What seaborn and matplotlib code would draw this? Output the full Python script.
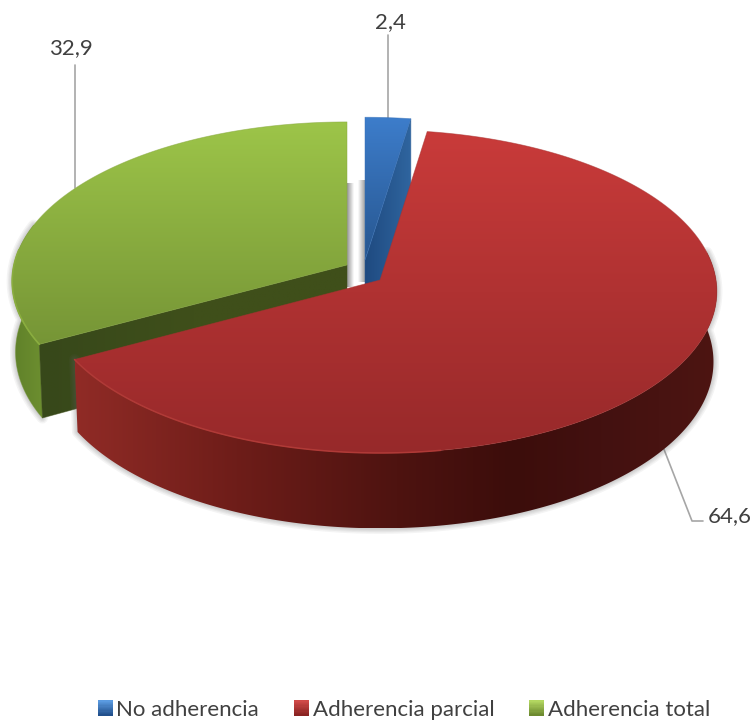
import numpy as np
import matplotlib
matplotlib.use("Agg")
import matplotlib.pyplot as plt
from matplotlib.colors import LinearSegmentedColormap, to_rgb
from matplotlib.legend_handler import HandlerBase
from matplotlib.patches import Patch, Polygon, Rectangle
import seaborn as sns

# Survey shares
categories = ["No adherencia", "Adherencia parcial", "Adherencia total"]
values = [2.4, 64.6, 32.9]

sns.set_theme(style="white")
plt.rcParams["font.family"] = ["Lato", "DejaVu Sans"]

TEXT = "#404040"
LEADER = "#a6a6a6"
LABEL_SIZE = 16

# Perspective disc of each exploded slice: apex, radii, foreshortening, wall height
DISCS = [
    dict(cx=365, cy=260, rx=335, a=157, k=0.10, h=70),
    dict(cx=380, cy=280, rx=336, a=160.7, k=0.071, h=70),
    dict(cx=347, cy=265, rx=333, a=157.8, k=0.103, h=70),
]
TOP_SHADES = [("#3d7dcb", "#27568f"), ("#c93b3a", "#97292a"), ("#9dc549", "#769536")]
SQUARES = [("#5a9ae0", "#22508c"), ("#d04a48", "#8a2322"), ("#b2d660", "#6d8a30")]

shares = np.array(values) / np.sum(values) * 360
edges = np.concatenate([[0], np.cumsum(shares)])


def project(theta, d):
    """Top-rim point for a clockwise angle measured from twelve o'clock."""
    t = np.radians(theta)
    u, v = np.sin(t), -np.cos(t)
    w = 1 - d["k"] * v
    return d["cx"] + d["rx"] * u / w, d["cy"] + d["a"] * v / w


def drop(x, y, theta, d):
    """Matching point at the foot of the wall."""
    v = -np.cos(np.radians(theta))
    return d["cx"] + (x - d["cx"]) * 0.99, y + d["h"] / (1 - d["k"] * v)


def arc(t0, t1, d, n=240):
    th = np.linspace(t0, t1, n)
    return th, *project(th, d)


def gradient(ax, poly, colors, horizontal=False, z=2, positions=None):
    pts = np.asarray(poly)
    x0, x1 = pts[:, 0].min(), pts[:, 0].max()
    y0, y1 = pts[:, 1].min(), pts[:, 1].max()
    stops = list(zip(positions, colors)) if positions is not None else colors
    cmap = LinearSegmentedColormap.from_list("shade", stops)
    ramp = np.linspace(0, 1, 256)
    ramp = ramp[None, :] if horizontal else ramp[:, None]
    im = ax.imshow(ramp, cmap=cmap, vmin=0, vmax=1, extent=(x0, x1, y1, y0),
                   aspect="auto", interpolation="bilinear", zorder=z)
    im.set_clip_path(Polygon(pts, closed=True, transform=ax.transData))


def outline(ax, poly, color, z):
    # A hairline around a clipped fill keeps its edge from looking jagged
    ax.add_patch(Polygon(poly, closed=True, fc="none", ec=color, lw=0.6, alpha=0.55, zorder=z))


def soft_shadow(ax, poly, z=1):
    for lw in (1.5, 3, 4.5, 6, 8):
        ax.add_patch(Polygon(poly, closed=True, fc="none", ec="#666666", lw=lw,
                             alpha=0.07, joinstyle="round", zorder=z))


fig = plt.figure(figsize=(7.54, 7.24), dpi=100)
ax = fig.add_axes([0, 0, 1, 1])

blue, red, green = DISCS
t_blue = (edges[0], edges[1])
t_red = (edges[1], edges[2])
t_green = (edges[2], edges[3])

# Green slice: outer wall, cut face, top
th, x, y = arc(t_green[0], 285, green)
bx, by = drop(x, y, th, green)
wall = np.r_[np.c_[x, y], np.c_[bx, by][::-1]]
soft_shadow(ax, wall)
gradient(ax, wall, ["#5f8029", "#6d8f30"], horizontal=True, z=3)
outline(ax, wall, "#6d8f30", 3)
corner = np.array(project(t_green[0], green))
foot = np.array(drop(*corner, t_green[0], green))
apex = np.array([green["cx"], green["cy"]])
cut = [apex, corner, foot, apex + [0, green["h"]]]
gradient(ax, cut, ["#37481a", "#3f4f1a", "#3f4f1a"], horizontal=True, z=3)
outline(ax, cut, "#3f4f1a", 3)
th, x, y = arc(*t_green, green)
top = np.r_[[apex], np.c_[x, y]]
gradient(ax, top, list(TOP_SHADES[2]), z=4)
outline(ax, top, "#87a83f", 4)
ax.plot(x[:70], y[:70], color="#8aad3f", lw=1.2, zorder=5, solid_capstyle="round")

# Shadows in the gap between the green and blue slices
gap_green = [(green["cx"], green["cy"] - 82), (green["cx"] + 7, green["cy"] - 82),
             (green["cx"] + 7, green["cy"] + 22), (green["cx"], green["cy"] + 22)]
gradient(ax, gap_green, ["#949494", "#ffffff"], horizontal=True, z=1)
gap_blue = [(blue["cx"] - 7, blue["cy"] - 80), (blue["cx"], blue["cy"] - 80),
            (blue["cx"], blue["cy"] + 22), (blue["cx"] - 7, blue["cy"] + 22)]
gradient(ax, gap_blue, ["#ffffff", "#a0a0a0"], horizontal=True, z=1)

# Blue slice: cut face, then top
th, x, y = arc(*t_blue, blue)
apex_b = np.array([blue["cx"], blue["cy"]])
rim_end = np.array([x[-1], y[-1]])
cut = [rim_end, apex_b, apex_b + [0, blue["h"]], rim_end + [0, blue["h"]]]
gradient(ax, cut, ["#1f4a80", "#2f659f"], horizontal=True, z=3)
outline(ax, cut, "#2a5a94", 3)
top = np.r_[[apex_b], np.c_[x, y]]
gradient(ax, top, list(TOP_SHADES[0]), z=4)
outline(ax, top, "#3570b8", 4)

# Red slice: wall, then top
th, x, y = arc(80, t_red[1], red)
bx, by = drop(x, y, th, red)
wall = np.r_[np.c_[x, y], np.c_[bx, by][::-1]]
soft_shadow(ax, wall, z=5)
gradient(ax, wall,
         ["#902b26", "#6e1d19", "#4e1310", "#3c0d0b", "#431110", "#4d1512"],
         horizontal=True, z=6, positions=[0, 0.25, 0.5, 0.68, 0.82, 1])
th, x, y = arc(*t_red, red)
top = np.r_[[(red["cx"], red["cy"])], np.c_[x, y]]
gradient(ax, top, list(TOP_SHADES[1]), z=7)
outline(ax, top, "#a83230", 7)
mask = th > 170
ax.plot(x[mask], y[mask], color="#b03a37", lw=1.1, zorder=8, solid_capstyle="round")

# Data labels with leader lines from each slice's mid-angle
mids = (edges[:-1] + edges[1:]) / 2
labels = [f"{v:.1f}".replace(".", ",") for v in values]

mx, my = project(mids[0], blue)
ax.plot([mx, mx], [my, 35], color=LEADER, lw=1.2, zorder=1)
ax.text(mx + 2, 22, labels[0], ha="center", va="center", fontsize=LABEL_SIZE, color=TEXT)

mx, my = project(mids[2], green)
ax.plot([mx, mx], [my, 65], color=LEADER, lw=1.2, zorder=1)
ax.text(mx - 4, 48, labels[2], ha="center", va="center", fontsize=LABEL_SIZE, color=TEXT)

mx, my = project(mids[1], red)
mx, my = drop(mx, my, mids[1], red)
ax.plot([mx, 692, 703], [my, 521, 521], color=LEADER, lw=1.2, zorder=1)
ax.text(708, 516, labels[1], ha="left", va="center", fontsize=LABEL_SIZE, color=TEXT)


class ShadedSquare(HandlerBase):
    def __init__(self, shade):
        super().__init__()
        self.shade = shade

    def create_artists(self, legend, orig, xd, yd, w, h, fontsize, trans):
        c0, c1 = (np.array(to_rgb(c)) for c in self.shade)
        n = 12
        strips = []
        for i in range(n):
            f = i / (n - 1)
            strips.append(Rectangle((-xd, -yd + h * (1 - (i + 1) / n)), w, h / n + 0.2,
                                    fc=tuple(c0 + (c1 - c0) * f), ec="none", transform=trans))
        return strips


handles = [Patch(label=c) for c in categories]
ax.legend(
    handles=handles,
    handler_map={hnd: ShadedSquare(s) for hnd, s in zip(handles, SQUARES)},
    ncol=3, frameon=False, loc="lower left", bbox_to_anchor=(98 / 754, 4 / 724),
    fontsize=16, labelcolor=TEXT, handlelength=0.675, handleheight=0.675,
    handletextpad=0.15, columnspacing=1.58, borderpad=0, borderaxespad=0,
)

ax.set_xlim(0, 754)
ax.set_ylim(724, 0)
ax.axis("off")
fig.savefig("out.png", dpi=100, facecolor="white")
